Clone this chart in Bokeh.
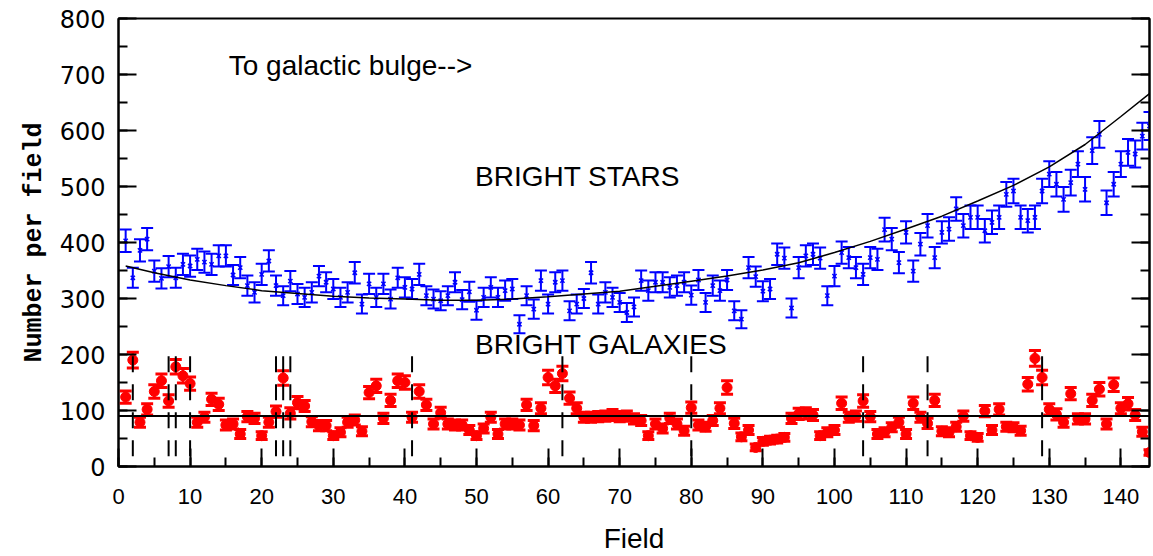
from bokeh.plotting import figure
from bokeh.models import LinearAxis, SingleIntervalTicker, Range1d, Label, Span, ColumnDataSource
from bokeh.embed import file_html
from bokeh.resources import INLINE

# Field number along the strip
fields = list(range(1, 145))

# Bright star counts per field and their errors
stars = [403, 337, 386, 406, 349, 336, 357, 337, 361, 358,
         370, 365, 361, 376, 376, 342, 355, 323, 311, 343,
         367, 323, 305, 331, 308, 302, 311, 340, 329, 317,
         302, 311, 346, 290, 326, 302, 326, 299, 337, 320,
         317, 343, 305, 299, 296, 305, 329, 298, 312, 279,
         302, 320, 302, 314, 317, 254, 305, 281, 332, 290,
         329, 332, 278, 290, 300, 346, 290, 311, 302, 293,
         275, 285, 332, 314, 329, 329, 320, 323, 329, 306,
         333, 293, 323, 314, 333, 278, 263, 355, 339, 313,
         317, 379, 372, 283, 355, 376, 379, 372, 305, 340,
         382, 373, 355, 343, 373, 370, 423, 406, 364, 418,
         349, 397, 430, 373, 418, 424, 460, 430, 445, 445,
         421, 436, 445, 486, 492, 445, 439, 445, 492, 522,
         504, 477, 507, 540, 495, 564, 593, 471, 504, 540,
         561, 558, 590, 608]
star_err = [20, 18, 20, 20, 19, 18, 19, 18, 19, 19,
            19, 19, 19, 19, 19, 18, 19, 18, 18, 19,
            19, 18, 17, 18, 18, 17, 18, 18, 18, 18,
            17, 18, 19, 17, 18, 17, 18, 17, 18, 18,
            18, 19, 17, 17, 17, 17, 18, 17, 18, 17,
            17, 18, 17, 18, 18, 16, 17, 17, 18, 17,
            18, 18, 17, 17, 17, 19, 17, 18, 17, 17,
            17, 17, 18, 18, 18, 18, 18, 18, 18, 17,
            18, 17, 18, 18, 18, 17, 16, 19, 18, 18,
            18, 19, 19, 17, 19, 19, 19, 19, 17, 18,
            20, 19, 19, 19, 19, 19, 21, 20, 19, 20,
            19, 20, 21, 19, 20, 21, 21, 21, 21, 21,
            21, 21, 21, 22, 22, 21, 21, 21, 22, 23,
            22, 22, 23, 23, 22, 24, 24, 22, 22, 23,
            24, 24, 24, 25]

# Bright galaxy counts per field and their errors
galaxies = [124, 190, 79, 102, 134, 153, 117, 178, 162, 148,
            79, 88, 120, 111, 74, 76, 58, 89, 86, 55,
            79, 98, 158, 95, 114, 108, 80, 73, 73, 55,
            61, 79, 83, 63, 132, 144, 86, 118, 153, 150,
            88, 134, 110, 76, 96, 76, 74, 74, 65, 55,
            68, 88, 58, 76, 76, 74, 110, 73, 104, 159,
            144, 166, 122, 104, 88, 88, 89, 90, 92, 89,
            90, 85, 82, 55, 76, 68, 86, 76, 64, 105,
            74, 71, 82, 104, 141, 77, 53, 65, 34, 45,
            47, 49, 52, 86, 94, 95, 92, 55, 61, 65,
            113, 88, 90, 117, 89, 58, 61, 70, 79, 58,
            113, 88, 77, 118, 63, 61, 71, 90, 55, 52,
            99, 65, 102, 71, 70, 64, 147, 193, 159, 102,
            93, 79, 130, 85, 85, 118, 138, 76, 146, 104,
            112, 92, 62, 25]
galaxy_err = [11, 14, 9, 10, 12, 12, 11, 13, 13, 12,
              9, 9, 11, 11, 9, 9, 8, 9, 9, 7,
              9, 10, 13, 10, 11, 10, 9, 9, 9, 7,
              8, 9, 9, 8, 11, 12, 9, 11, 12, 12,
              9, 12, 10, 9, 10, 9, 9, 9, 8, 7,
              8, 9, 8, 9, 9, 9, 10, 9, 10, 13,
              12, 13, 11, 10, 9, 9, 9, 9, 10, 9,
              9, 9, 9, 7, 9, 8, 9, 9, 8, 10,
              9, 8, 9, 10, 12, 9, 7, 8, 6, 7,
              7, 7, 7, 9, 10, 10, 10, 7, 8, 8,
              11, 9, 9, 11, 9, 8, 8, 8, 9, 8,
              11, 9, 9, 11, 8, 8, 8, 9, 7, 7,
              10, 8, 10, 8, 8, 8, 12, 14, 13, 10,
              10, 9, 11, 9, 9, 11, 12, 9, 12, 10,
              11, 10, 8, 5]

# Smooth fit to the star counts
fit_fields = [1, 5, 10, 15, 20, 25, 30, 35, 40, 45, 50, 55, 60, 65, 70,
              75, 80, 85, 90, 95, 100, 105, 110, 115, 120, 125, 130, 135, 140, 144]
fit_counts = [358, 346, 333, 323, 314, 309, 304, 301, 299, 297, 297, 299, 303, 308, 313,
              322, 331, 340, 351, 364, 382, 402, 424, 447, 474, 502, 535, 575, 625, 666]

# Mean galaxy level and the flagged fields
galaxy_mean = 90
flagged_fields = [2, 7, 8, 10, 22, 23, 24, 41, 62, 80, 104, 113, 129]
flag_top = 197
flag_bottom = 14

star_src = ColumnDataSource(dict(
    x=fields, y=stars,
    lo=[v - e for v, e in zip(stars, star_err)],
    hi=[v + e for v, e in zip(stars, star_err)]))
gal_src = ColumnDataSource(dict(
    x=fields, y=galaxies,
    lo=[v - e for v, e in zip(galaxies, galaxy_err)],
    hi=[v + e for v, e in zip(galaxies, galaxy_err)]))

p = figure(width=1153, height=556, x_range=Range1d(0, 144), y_range=Range1d(0, 800),
           output_backend="svg", toolbar_location=None,
           min_border_left=118, min_border_right=4, min_border_top=18, min_border_bottom=90)
p.xgrid.visible = False
p.ygrid.visible = False
p.outline_line_color = "black"
p.outline_line_width = 2
p.background_fill_color = "white"
p.border_fill_color = "white"

BLUE = "#0000ff"
RED = "#ff0000"

# stars: error bars, caps and x markers
p.segment(x0="x", y0="lo", x1="x", y1="hi", source=star_src, line_color=BLUE, line_width=2)
p.scatter(x="x", y="hi", source=star_src, marker="dash", size=12, line_color=BLUE, line_width=2)
p.scatter(x="x", y="lo", source=star_src, marker="dash", size=12, line_color=BLUE, line_width=2)
p.scatter(x="x", y="y", source=star_src, marker="x", size=6, line_color=BLUE, line_width=1.5)

# galaxies: error bars, caps and filled dots
p.segment(x0="x", y0="lo", x1="x", y1="hi", source=gal_src, line_color=RED, line_width=2.5)
p.scatter(x="x", y="hi", source=gal_src, marker="dash", size=12, line_color=RED, line_width=3)
p.scatter(x="x", y="lo", source=gal_src, marker="dash", size=12, line_color=RED, line_width=3)
p.scatter(x="x", y="y", source=gal_src, marker="circle", size=10, fill_color=RED, line_color=RED)

# fit curve, mean level and flagged fields
p.line(fit_fields, fit_counts, line_color="black", line_width=1.5)
p.add_layout(Span(location=galaxy_mean, dimension="width", line_color="black", line_width=2))
p.segment(x0=flagged_fields, y0=[flag_top] * len(flagged_fields),
          x1=flagged_fields, y1=[flag_bottom] * len(flagged_fields),
          line_color="black", line_width=2, line_dash="16 12")

# axes
p.xaxis.ticker = SingleIntervalTicker(interval=10, num_minor_ticks=2)
p.yaxis.ticker = SingleIntervalTicker(interval=100, num_minor_ticks=2)
for ax in (p.xaxis, p.yaxis):
    ax.axis_line_width = 2
    ax.axis_line_color = "black"
    ax.major_tick_in = 18
    ax.major_tick_out = 0
    ax.minor_tick_in = 9
    ax.minor_tick_out = 0
    ax.major_tick_line_width = 2
    ax.minor_tick_line_width = 2
    ax.major_tick_line_color = "black"
    ax.minor_tick_line_color = "black"
    ax.major_label_text_color = "black"
    ax.axis_label_text_color = "black"
    ax.axis_label_text_font_style = "normal"

p.yaxis.major_label_text_font = "DejaVu Sans"
p.yaxis.major_label_text_font_size = "24px"
p.yaxis.major_label_standoff = 13
p.yaxis.axis_label = "Number per field"
p.yaxis.axis_label_text_font = "Liberation Mono"
p.yaxis.axis_label_text_font_style = "bold"
p.yaxis.axis_label_text_font_size = "25px"
p.yaxis.axis_label_standoff = 8

p.xaxis.major_label_text_font = "Liberation Sans"
p.xaxis.major_label_text_font_size = "22px"
p.xaxis.major_label_standoff = 22
p.xaxis.axis_label = "Field"
p.xaxis.axis_label_text_font = "Liberation Sans"
p.xaxis.axis_label_text_font_size = "28px"
p.xaxis.axis_label_standoff = 16

# tick marks along the right edge, no labels
right = LinearAxis(ticker=SingleIntervalTicker(interval=100, num_minor_ticks=2),
                   major_tick_in=18, major_tick_out=0, minor_tick_in=9, minor_tick_out=0,
                   major_tick_line_width=2, minor_tick_line_width=2,
                   axis_line_width=2,
                   major_label_overrides={v: "" for v in range(0, 801, 100)})
p.add_layout(right, "right")

# annotations
label_font = "Liberation Sans"
p.add_layout(Label(x=15.4, y=689, text="To galactic bulge-->", text_font=label_font,
                   text_font_size="28px", text_color="black"))
p.add_layout(Label(x=49.8, y=491, text="BRIGHT STARS", text_font=label_font,
                   text_font_size="28px", text_color="black"))
p.add_layout(Label(x=49.8, y=190, text="BRIGHT GALAXIES", text_font=label_font,
                   text_font_size="28px", text_color="black"))

open("out.html", "w").write(file_html(p, INLINE))
